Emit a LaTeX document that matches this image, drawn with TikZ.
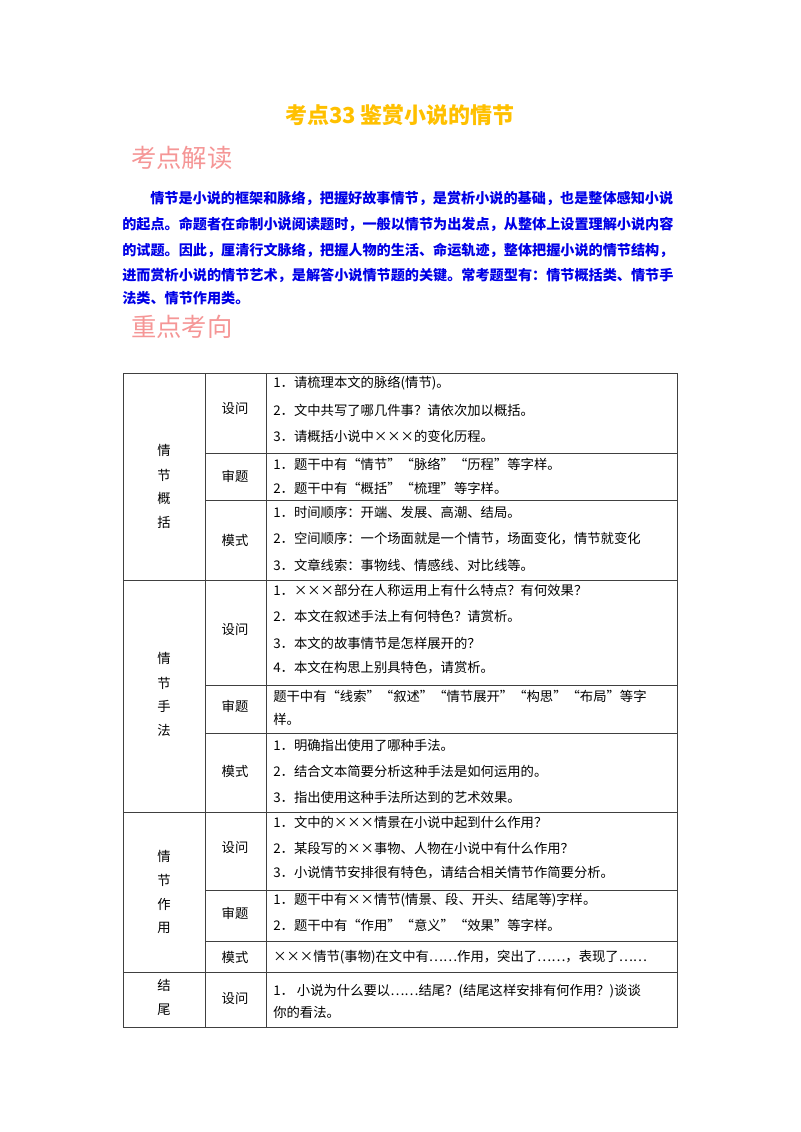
\documentclass[tikz,border=0pt]{standalone}
\usepackage{fontspec}
\setmainfont{Noto Sans CJK SC}
\definecolor{ttl}{RGB}{255,192,0}
\definecolor{pk}{RGB}{245,150,150}
\definecolor{bl}{RGB}{0,0,230}
\begin{document}
\begin{tikzpicture}[x=0.75pt,y=-0.75pt,
  tx/.style={anchor=west,inner sep=0pt,font=\fontsize{10}{12}\selectfont},
  cx/.style={inner sep=0pt,font=\fontsize{10}{12}\selectfont},
  para/.style={anchor=west,inner sep=0pt,text=bl,font=\bfseries\fontsize{10.6}{12}\selectfont},
  hd/.style={anchor=west,inner sep=0pt,text=pk,font=\fontsize{19}{22}\selectfont},
  grid/.style={draw=black!75,line width=0.6pt}]
\useasboundingbox (0,0) rectangle (800,1132);
\node[inner sep=0pt,text=ttl,font=\bfseries\fontsize{16.5}{20}\selectfont] (title) at (400,115) {考点33\ 鉴赏小说的情节};
\node[hd] (h1) at (131,158) {考点解读};
\node[hd] (h2) at (131,327) {重点考向};
\node[para] (p1) at (150,198) {情节是小说的框架和脉络，把握好故事情节，是赏析小说的基础，也是整体感知小说};
\node[para] (p2) at (122,224) {的起点。命题者在命制小说阅读题时，一般以情节为出发点，从整体上设置理解小说内容};
\node[para] (p3) at (122,250) {的试题。因此，厘清行文脉络，把握人物的生活、命运轨迹，整体把握小说的情节结构，};
\node[para] (p4) at (122,275) {进而赏析小说的情节艺术，是解答小说情节题的关键。常考题型有：情节概括类、情节手};
\node[para] (p5) at (122,298) {法类、情节作用类。};
% table grid
\draw[grid] (123,373) rectangle (677,1027);
\draw[grid] (205,373) -- (205,1027) (266,373) -- (266,1027);
\foreach \y in {580,812,972} \draw[grid] (123,\y) -- (677,\y);
\foreach \y in {453,500,685,733,890,941} \draw[grid] (205,\y) -- (677,\y);
% left labels
\foreach \t/\y in {情/450,节/475,概/498,括/522, 情/658,节/683,手/706,法/730, 情/856,节/880,作/904,用/928, 结/985,尾/1010}
  \node[cx] at (164,\y) {\t};
% middle labels
\foreach \t/\y in {设问/409,审题/476,模式/540,设问/630,审题/706,模式/771,设问/848,审题/913,模式/957,设问/999}
  \node[cx] at (235,\y) {\t};
% contents
\foreach \t/\y in {
 1．请梳理本文的脉络(情节)。/383,
 2．文中共写了哪几件事？请依次加以概括。/410,
 3．请概括小说中×××的变化历程。/436,
 1．题干中有“情节”“脉络”“历程”等字样。/464,
 2．题干中有“概括”“梳理”等字样。/488,
 1．时间顺序：开端、发展、高潮、结局。/512,
 2．空间顺序：一个场面就是一个情节，场面变化，情节就变化/539,
 3．文章线索：事物线、情感线、对比线等。/565,
 1．×××部分在人称运用上有什么特点？有何效果？/590,
 2．本文在叙述手法上有何特色？请赏析。/616,
 3．本文的故事情节是怎样展开的？/643,
 4．本文在构思上别具特色，请赏析。/668,
 题干中有“线索”“叙述”“情节展开”“构思”“布局”等字/696,
 样。/719,
 1．明确指出使用了哪种手法。/745,
 2．结合文本简要分析这种手法是如何运用的。/771,
 3．指出使用这种手法所达到的艺术效果。/797,
 1．文中的×××情景在小说中起到什么作用？/822,
 2．某段写的××事物、人物在小说中有什么作用？/848,
 3．小说情节安排很有特色，请结合相关情节作简要分析。/873,
 1．题干中有××情节(情景、段、开头、结尾等)字样。/900,
 2．题干中有“作用”“意义”“效果”等字样。/925,
 ×××情节(事物)在文中有……作用，突出了……，表现了……/957,
 1．\ 小说为什么要以……结尾？(结尾这样安排有何作用？)谈谈/991,
 你的看法。/1012}
  \node[tx] at (273,\y) {\t};
\end{tikzpicture}
\end{document}
